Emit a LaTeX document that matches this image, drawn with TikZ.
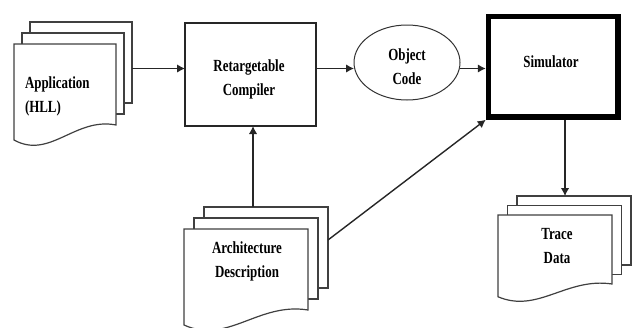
\documentclass[tikz,border=0pt]{standalone}
\usepackage{fontspec}
\setmainfont{Liberation Serif}
\newfontfamily\lblfont[FakeStretch=0.76]{Liberation Serif}
\usetikzlibrary{arrows.meta,shapes.geometric,calc}

% Stack of three document sheets: #1 name, #2,#3 top-left of the front sheet,
% #4 width, #5 height, #6,#7 offset between sheets
\newcommand\docstack[7]{%
  \node[sheet, minimum width=#4pt, minimum height=#5pt, anchor=north west]
    (#1back) at (#2+2*#6, #3+2*#7) {};
  \node[sheet, minimum width=#4pt, minimum height=#5pt, anchor=north west]
    (#1mid) at (#2+#6, #3+#7) {};
  \path[draw=black!75, line width=1.2pt, fill=white]
    (#2,#3) -- (#2+#4,#3) -- (#2+#4,#3+#5)
    .. controls (#2+0.6*#4,#3+#5-0.1*#5) and (#2+0.35*#4,#3+#5+0.43*#5) ..
    (#2,#3+#5+0.185*#5) -- cycle;
}

\begin{document}
\begin{tikzpicture}[x=1pt,y=-1pt,
  every node/.style={inner sep=0pt, outer sep=0pt},
  sheet/.style={draw=black!75, line width=1.2pt, fill=white},
  lbl/.style={font=\lblfont\bfseries\fontsize{17}{24}\selectfont, align=center},
  procbox/.style={draw=black!85, line width=1.3pt, fill=white},
  conn/.style={draw=black!85, line width=1.4pt, -{Latex[length=8pt,width=8.5pt]}},
  thinconn/.style={draw=black!85, line width=1.1pt, -{Latex[length=8pt,width=8.5pt]}}]

\useasboundingbox (0,0) rectangle (636,327);

% document stacks
\docstack{app}{14}{44}{102}{81}{8}{-11}
\docstack{arch}{184}{229}{124}{81}{10}{-11}
\docstack{trace}{498}{215}{114}{69}{9.5}{-9.5}

% process boxes
\node[procbox, minimum width=131pt, minimum height=103pt, anchor=north west]
  (compiler) at (185,23) {};
\node[draw=black!80, line width=1pt, ellipse, fill=white,
      minimum width=106pt, minimum height=75pt] (objcode) at (407,62.5) {};
\node[draw=black, line width=5.5pt, fill=white, minimum width=129.5pt,
      minimum height=100.5pt, anchor=north west, outer sep=2.75pt]
  (sim) at (485.75,13.75) {};

% labels
\node[lbl, align=left, anchor=west] (applbl) at (25,96.5) {Application\\(HLL)};
\node[lbl] (complbl) at (249,79) {Retargetable\\Compiler};
\node[lbl] (objlbl) at (407,67) {Object\\Code};
\node[lbl] (simlbl) at (551,62) {Simulator};
\node[lbl] (archlbl) at (247,261.5) {Architecture\\Description};
\node[lbl] (tracelbl) at (557,246) {Trace\\Data};

% connectors
\coordinate (row) at (0,68.5);
\draw[conn] (appback.east |- row) -- (compiler.west |- row);
\draw[conn] (compiler.east |- row) -- (objcode.west |- row);
\draw[conn] (objcode.east |- row) -- (sim.west |- row);
\draw[conn] (archback.north -| 253,0) -- (compiler.south -| 253,0);
\draw[conn] (archback.east |- 0,240) -- (sim.south west);
\draw[thinconn] (sim.south -| 565,0) -- (traceback.north -| 565,0);
\end{tikzpicture}
\end{document}
